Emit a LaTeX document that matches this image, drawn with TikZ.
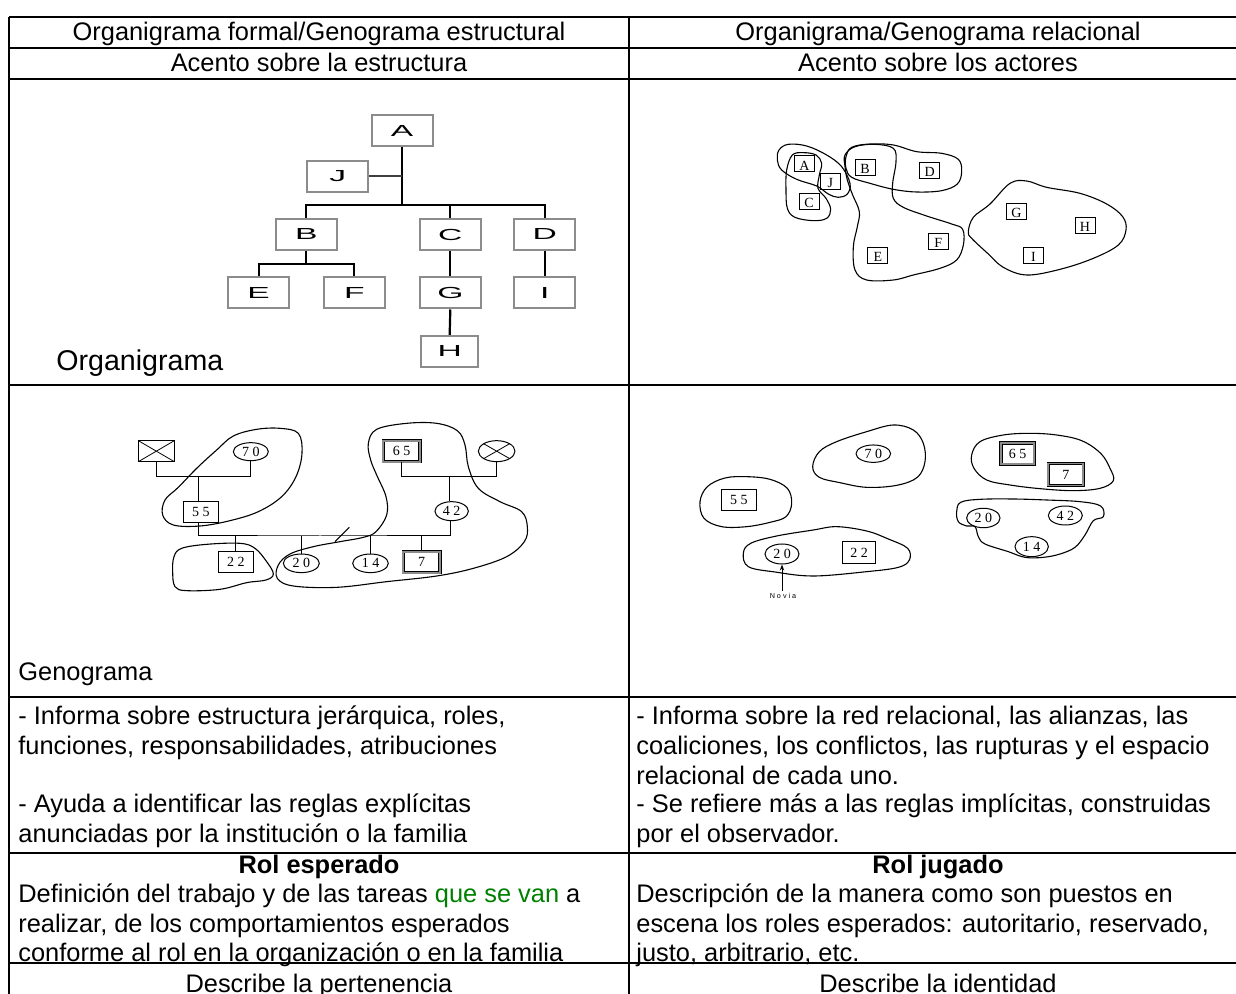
\documentclass[tikz,border=0pt]{standalone}
\usepackage{fontspec}
\setmainfont{Liberation Sans}
\newfontfamily\serifnum{Liberation Serif}
\usetikzlibrary{shapes.geometric,arrows.meta}
\definecolor{boxgray}{RGB}{140,140,140}
\definecolor{txtgreen}{RGB}{0,128,0}
\tikzset{
  tbl/.style={line width=1pt, black},
  txt/.style={font=\fontsize{12.7}{15}\selectfont, inner sep=0pt},
  orgbox/.style={draw=boxgray, line width=1pt, minimum width=30.5pt, minimum height=15.5pt, inner sep=0pt, font=\fontsize{8}{8}\selectfont},
  orgline/.style={line width=1.1pt, black},
  jline/.style={line width=0.7pt, black!75},
  relbox/.style={draw=black, line width=0.5pt, minimum width=10pt, minimum height=8pt, inner sep=0pt, text height=6.2pt, text depth=0pt, font=\serifnum\fontsize{7}{7}\selectfont},
  blob/.style={line width=0.55pt, black},
  gbox/.style={draw=black, line width=0.5pt, minimum width=17.5pt, minimum height=10.5pt, inner sep=0pt, font=\serifnum\fontsize{7}{7}\selectfont},
  gell/.style={ellipse, draw=black, line width=0.5pt, minimum width=17.5pt, minimum height=9pt, inner sep=0pt, font=\serifnum\fontsize{7}{7}\selectfont},
  gdbl/.style={gbox, draw=black, line width=0.45pt, double=black!45, double distance=0.9pt},
  gline/.style={line width=0.5pt, black},
}
\newcommand{\wide}[1]{\scalebox{2.1}[1]{#1}}
\begin{document}
\begin{tikzpicture}[x=0.5pt, y=-0.5pt]
\useasboundingbox (0,0) rectangle (1236,994);
\clip (0,0) rectangle (1236,994);
\fill[white] (0,0) rectangle (1236,994);

% ---------- table ----------
\foreach \yy in {17,48,79,385,697,853} \draw[tbl] (9,\yy) -- (1247,\yy);
\draw[line width=0.7pt] (9,963) -- (1247,963);
\draw[tbl] (9,17) -- (9,1010);
\draw[line width=0.9pt] (629,17) -- (629,1010);
\draw[tbl] (1247,17) -- (1247,1010);

% ---------- header texts ----------
\node[txt, anchor=base] (h1) at (319,41) {Organigrama formal/Genograma estructural};
\node[txt, anchor=base] (h2) at (938,41) {Organigrama/Genograma relacional};
\node[txt, anchor=base] (s1) at (319,72) {Acento sobre la estructura};
\node[txt, anchor=base] (s2) at (938,72) {Acento sobre los actores};

% ---------- organigrama ----------
\begin{scope}[shift={(220,100)}, scale=1/3]
  \node[orgbox] (A) at (546,91.5) {\wide{A}};
  \node[orgbox] (J) at (353.5,228.5) {\wide{J}};
  \node[orgbox] (B) at (259,403.5) {\wide{B}};
  \node[orgbox] (C) at (691,403.5) {\wide{C}};
  \node[orgbox] (D) at (974,403.5) {\wide{D}};
  \node[orgbox] (E) at (116,579) {\wide{E}};
  \node[orgbox] (F) at (403,579) {\wide{F}};
  \node[orgbox] (G) at (691,579) {\wide{G}};
  \node[orgbox] (I) at (974,579) {\wide{I}};
  \node[orgbox, minimum width=28.5pt] (H) at (689,754) {\wide{H}};
  \coordinate (bar) at (546,315);
  \coordinate (bbar) at (259,492);
  \draw[orgline] (A.south) -- (bar);
  \draw[orgline] (B.north) -- (B.north |- bar) -- (D.north |- bar) -- (D.north);
  \draw[orgline] (C.north) -- (C.north |- bar);
  \draw[jline] (J.east) -- (J.east -| A.south);
  \draw[orgline] (B.south) -- (bbar);
  \draw[orgline] (E.north) -- (E.north |- bbar) -- (F.north |- bbar) -- (F.north);
  \draw[orgline] (C.south) -- (G.north);
  \draw[orgline] (G.south) -- (H.north);
  \draw[orgline] (D.south) -- (I.north);
\end{scope}
\node[font=\fontsize{14.3}{17}\selectfont, inner sep=0pt, anchor=base west] (orglbl) at (56,371) {Organigrama};

% ---------- organigrama relacional ----------
\begin{scope}[shift={(760,130)}, scale=1/3]
  \node[relbox] (rA) at (133,101.5) {A};
  \node[relbox] (rJ) at (211,153.5) {J};
  \node[relbox] (rC) at (147,213.5) {C};
  \node[relbox] (rB) at (315,112.5) {B};
  \node[relbox] (rD) at (509,121.5) {D};
  \node[relbox] (rG) at (769,244) {G};
  \node[relbox] (rH) at (975,286.5) {H};
  \node[relbox] (rI) at (820,376) {I};
  \node[relbox] (rE) at (353.5,376.5) {E};
  \node[relbox] (rF) at (535,335) {F};
  \draw[blob] plot[smooth cycle, tension=0.6] coordinates {(57,60) (85,43) (140,48) (200,75) (245,110) (270,160) (262,192) (235,202) (205,192) (170,168) (110,148) (65,120) (52,90)};
  \draw[blob] plot[smooth cycle, tension=0.6] coordinates {(97,75) (130,68) (168,75) (185,100) (178,135) (174,175) (198,205) (212,238) (200,265) (160,272) (105,262) (82,235) (78,180) (80,120)};
  \draw[blob] plot[smooth cycle, tension=0.6] coordinates {(258,80) (275,52) (330,42) (400,45) (470,65) (545,70) (595,88) (605,125) (592,162) (545,182) (470,186) (400,178) (330,160) (275,142) (258,115)};
  \draw[blob] plot[smooth cycle, tension=0.6] coordinates {(255,75) (285,50) (345,43) (400,55) (408,95) (398,160) (400,205) (430,232) (500,258) (575,282) (608,298) (610,345) (590,390) (540,415) (460,435) (400,450) (320,450) (285,420) (280,350) (292,290) (298,245) (278,195) (262,150) (255,110)};
  \draw[blob] plot[smooth cycle, tension=0.6] coordinates {(625,305) (640,262) (690,222) (750,160) (800,153) (860,172) (960,190) (1040,222) (1088,260) (1098,300) (1075,345) (1000,385) (900,418) (800,435) (730,412) (685,372) (635,325)};
\end{scope}

% ---------- genograma ----------
\begin{scope}[shift={(120,400)}, scale=1/3]
  \node[gbox, minimum width=18pt, path picture={\draw[line width=0.4pt] (path picture bounding box.north west) -- (path picture bounding box.south east) (path picture bounding box.south west) -- (path picture bounding box.north east);}] (gX) at (109,153.5) {};
  \node[gell] (g70) at (392.5,155) {7 0};
  \node[gbox] (g55) at (242.5,335) {5 5};
  \node[gdbl, minimum width=18.3pt] (g65) at (845,153.5) {6 5};
  \node[gell, minimum width=18.3pt, minimum height=10.5pt, path picture={\draw[line width=0.4pt] (path picture bounding box.north west) -- (path picture bounding box.south east) (path picture bounding box.south west) -- (path picture bounding box.north east);}] (gXe) at (1130,153.5) {};
  \node[gell, minimum width=16.7pt, minimum height=9.5pt] (g42) at (995,333.5) {4 2};
  \node[gbox] (g22) at (347.5,486.5) {2 2};
  \node[gell, minimum width=18pt, minimum height=9.3pt] (g20) at (544,490) {2 0};
  \node[gell, minimum width=17.8pt, minimum height=9.3pt] (g14) at (751.5,490) {1 4};
  \node[gdbl, minimum width=18.3pt] (g7) at (905,486.5) {7};
  \coordinate (m1) at (235,230);
  \coordinate (m2) at (990,230);
  \coordinate (lb) at (600,408);
  \draw[gline] (gX.south) |- (g70.south |- m1) -- (g70.south);
  \draw[gline] (m1) -- (m1 |- g55.north);
  \draw[gline] (g65.south) |- (gXe.south |- m2) -- (gXe.south);
  \draw[gline] (m2) -- (m2 |- g42.north);
  \draw[gline] (g55.south -| 235,0) |- (lb) -| (g42.south -| 990,0);
  \draw[gline] (g22.north) -- (g22.north |- lb);
  \draw[gline] (g20.north) -- (g20.north |- lb);
  \draw[gline] (g14.north) -- (g14.north |- lb);
  \draw[gline] (g7.north) -- (g7.north |- lb);
  \draw[gline] (645,425) -- (688,382);
  \draw[blob] plot[smooth cycle, tension=0.6] coordinates {(135,300) (175,262) (230,205) (290,150) (340,108) (410,88) (480,85) (535,100) (546,160) (528,230) (485,290) (415,335) (330,362) (240,378) (160,375) (128,345)};
  \draw[blob] plot[smooth cycle, tension=0.6] coordinates {(745,130) (770,88) (860,70) (950,70) (1012,92) (1035,135) (1045,200) (1075,265) (1140,305) (1205,335) (1222,380) (1213,425) (1160,470) (1060,505) (950,528) (800,545) (650,562) (520,558) (472,535) (475,495) (510,462) (580,440) (660,425) (730,412) (768,395) (800,345) (798,290) (770,225) (752,180)};
  \draw[blob] plot[smooth cycle, tension=0.6] coordinates {(162,470) (185,445) (260,433) (360,430) (405,445) (440,485) (460,522) (438,540) (380,548) (300,568) (200,572) (165,560) (158,515)};
\end{scope}
\node[txt, anchor=base west] (genlbl) at (18,680) {Genograma};

% ---------- genograma relacional ----------
\begin{scope}[shift={(680,420)}, scale=1/3]
  \node[gell, minimum width=17.3pt, minimum height=8.7pt] (r70) at (580,101) {7 0};
  \node[gbox, minimum width=17.2pt, minimum height=10.8pt] (r55) at (176.5,239.5) {5 5};
  \node[gell, minimum width=17pt, minimum height=10pt] (r20) at (306,402) {2 0};
  \node[gbox, minimum width=16.8pt, minimum height=10.8pt] (r22) at (537.5,397.5) {2 2};
  \node[gdbl, minimum width=16.8pt, minimum height=10.8pt] (r65) at (1012.5,100.5) {6 5};
  \node[gdbl, minimum width=17.5pt, minimum height=11pt] (r7) at (1157.5,163.5) {7};
  \node[gell, minimum width=16.7pt, minimum height=9.7pt] (r20b) at (910,294) {2 0};
  \node[gell, minimum width=17pt, minimum height=9.5pt] (r42b) at (1156,286.5) {4 2};
  \node[gell, minimum width=16.7pt, minimum height=10pt] (r14b) at (1055,380) {1 4};
  \node[inner sep=0pt, font=\fontsize{3.6}{4}\selectfont] (novia) at (309,528) {N o v i a};
  \draw[line width=0.5pt, -{Stealth[length=3pt,width=2.2pt]}] (r20.south |- novia.north) ++(0,-6) -- (r20.south);
  \draw[blob] plot[smooth cycle, tension=0.6] coordinates {(398,140) (418,95) (470,65) (560,35) (640,15) (700,30) (730,70) (735,125) (712,172) (650,196) (560,202) (480,188) (418,172)};
  \draw[blob] plot[smooth cycle, tension=0.6] coordinates {(60,245) (82,200) (135,174) (200,170) (270,178) (322,205) (335,250) (318,290) (270,307) (200,320) (125,320) (72,295)};
  \draw[blob] plot[smooth cycle, tension=0.6] coordinates {(190,400) (212,370) (290,348) (400,330) (470,320) (560,333) (625,357) (683,385) (688,420) (655,442) (560,455) (400,468) (285,456) (205,440)};
  \draw[blob] plot[smooth cycle, tension=0.6] coordinates {(875,105) (900,65) (970,45) (1050,40) (1130,45) (1205,62) (1262,100) (1290,145) (1300,182) (1260,205) (1180,212) (1080,206) (990,195) (920,180) (882,145)};
  \draw[blob] plot[smooth cycle, tension=0.6] coordinates {(830,275) (842,247) (900,238) (1000,237) (1100,240) (1200,245) (1262,258) (1270,290) (1240,302) (1215,345) (1185,382) (1140,402) (1090,412) (1035,412) (985,395) (915,372) (895,350) (885,320) (860,318) (835,305)};
\end{scope}

% ---------- info row ----------
\node[txt, anchor=base west] (l1) at (18,724) {- Informa sobre estructura jerárquica, roles,};
\node[txt, anchor=base west] (l2) at (18,754) {funciones, responsabilidades, atribuciones};
\node[txt, anchor=base west] (l3) at (18,812) {- Ayuda a identificar las reglas explícitas};
\node[txt, anchor=base west] (l4) at (18,842) {anunciadas por la institución o la familia};
\node[txt, anchor=base west] (r1) at (636,724) {- Informa sobre la red relacional, las alianzas, las};
\node[txt, anchor=base west] (r2) at (636,754) {coaliciones, los conflictos, las rupturas y el espacio};
\node[txt, anchor=base west] (r3) at (636,784) {relacional de cada uno.};
\node[txt, anchor=base west] (r4) at (636,812) {- Se refiere más a las reglas implícitas, construidas};
\node[txt, anchor=base west] (r5) at (636,842) {por el observador.};

% ---------- rol row ----------
\node[txt, anchor=base, font=\fontsize{12.7}{15}\selectfont\bfseries] (rol1) at (319,873) {Rol esperado};
\node[txt, anchor=base, font=\fontsize{12.7}{15}\selectfont\bfseries] (rol2) at (938,873) {Rol jugado};
\node[txt, anchor=base west] (d1) at (18,902) {Definición del trabajo y de las tareas \textcolor{txtgreen}{que se van} a};
\node[txt, anchor=base west] (d2) at (18,932) {realizar, de los comportamientos esperados};
\node[txt, anchor=base west] (d3) at (18,961) {conforme al rol en la organización o en la familia};
\node[txt, anchor=base west] (e1) at (636,902) {Descripción de la manera como son puestos en};
\node[txt, anchor=base west] (e2) at (636,932) {escena los roles esperados: autoritario, reservado,};
\node[txt, anchor=base west] (e3) at (636,961) {justo, arbitrario, etc.};

% ---------- last row ----------
\node[txt, anchor=base] (p1) at (319,992) {Describe la pertenencia};
\node[txt, anchor=base] (p2) at (938,992) {Describe la identidad};
\end{tikzpicture}
\end{document}
